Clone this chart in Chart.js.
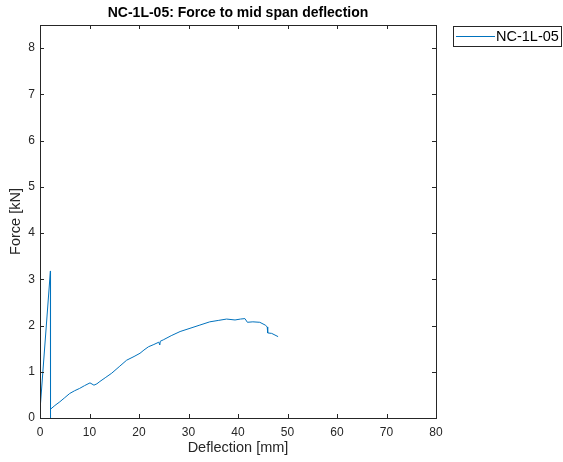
<!DOCTYPE html>
<html lang="en">
  <head>
    <meta charset="UTF-8" />
    <title>NC-1L-05: Force to mid span deflection</title>
    <script src="https://cdn.jsdelivr.net/npm/chart.js@4.4.0/dist/chart.umd.min.js"></script>
    <style>
      html, body { margin: 0; padding: 0; background: #fff; }
      #wrap { position: relative; width: 563px; height: 462px; }
    </style>
  </head>
  <body>
    <div id="wrap"><canvas id="myChart" width="563" height="462"></canvas></div>
    <script>
      const seriesName = "NC-1L-05"
      const deflection = [
        0, 2.1, 2.1, 2.15, 3.0, 4.0, 5.0, 6.0, 7.0, 8.0, 9.0, 10.1, 10.9, 11.5, 12.1,
        13.3, 14.5, 16.0, 17.5, 19.0, 20.2, 21.0, 21.9, 23.0, 24.0, 24.2, 24.3, 24.9,
        26.5, 28.3, 30.3, 32.3, 34.3, 36.0, 37.7, 39.4, 40.5, 41.4, 41.9, 43.0, 44.4,
        45.5, 45.9, 46.0, 46.8, 48.1
      ]
      const force = [
        0.17, 3.18, 0, 0.19, 0.27, 0.35, 0.44, 0.53, 0.59, 0.64, 0.70, 0.76, 0.71, 0.74, 0.79,
        0.88, 0.97, 1.11, 1.25, 1.33, 1.40, 1.47, 1.54, 1.59, 1.64, 1.58, 1.66, 1.69,
        1.78, 1.87, 1.94, 2.01, 2.08, 2.11, 2.14, 2.12, 2.14, 2.15, 2.07, 2.08, 2.07,
        2.01, 1.97, 1.84, 1.83, 1.76
      ]
      const xTicks = [0, 10, 20, 30, 40, 50, 60, 70, 80]
      const yTicks = [0, 1, 2, 3, 4, 5, 6, 7, 8]

      const font = "'Liberation Sans', Arial, sans-serif"
      const axisColor = "#262626"
      const lineColor = "#0072BD"

      // box, inward ticks, title and legend drawn like a MATLAB figure
      const matlabAxes = {
        id: "matlabAxes",
        afterDraw(chart) {
          const ctx = chart.ctx
          const a = chart.chartArea
          const xs = chart.scales.x
          const ys = chart.scales.y
          const tl = 4
          ctx.save()
          ctx.strokeStyle = axisColor
          ctx.lineWidth = 1
          ctx.beginPath()
          xTicks.forEach((v) => {
            const px = Math.round(xs.getPixelForValue(v)) + 0.5
            ctx.moveTo(px, a.bottom)
            ctx.lineTo(px, a.bottom - tl)
            ctx.moveTo(px, a.top)
            ctx.lineTo(px, a.top + tl)
          })
          yTicks.forEach((v) => {
            const py = Math.round(ys.getPixelForValue(v)) + 0.5
            ctx.moveTo(a.left, py)
            ctx.lineTo(a.left + tl, py)
            ctx.moveTo(a.right, py)
            ctx.lineTo(a.right - tl, py)
          })
          ctx.stroke()
          ctx.strokeRect(a.left + 0.5, a.top + 0.5, a.right - a.left, a.bottom - a.top)

          // title
          ctx.fillStyle = "#000"
          ctx.font = "bold 14px " + font
          ctx.textAlign = "center"
          ctx.textBaseline = "middle"
          ctx.fillText("NC-1L-05: Force to mid span deflection", (a.left + a.right) / 2, 13)

          // legend
          ctx.fillStyle = "#fff"
          ctx.fillRect(453.5, 26.5, 108, 20)
          ctx.strokeStyle = axisColor
          ctx.strokeRect(453.5, 26.5, 108, 20)
          ctx.strokeStyle = lineColor
          ctx.beginPath()
          ctx.moveTo(456, 36.5)
          ctx.lineTo(495, 36.5)
          ctx.stroke()
          ctx.fillStyle = "#000"
          ctx.font = "14.5px " + font
          ctx.textAlign = "left"
          ctx.fillText(seriesName, 496, 37)
          ctx.restore()
        },
      }

      const ctx = document.getElementById("myChart").getContext("2d")
      const myChart = new Chart(ctx, {
        type: "scatter",
        data: {
          datasets: [
            {
              label: seriesName,
              data: deflection.map((d, i) => ({ x: d, y: force[i] })),
              showLine: true,
              borderColor: lineColor,
              backgroundColor: lineColor,
              borderWidth: 1,
              pointRadius: 0,
              tension: 0,
            },
          ],
        },
        options: {
          responsive: false,
          animation: false,
          layout: { padding: { left: 0, right: 127, top: 25, bottom: 0 } },
          plugins: {
            legend: { display: false },
            title: { display: false },
            tooltip: { enabled: false },
          },
          scales: {
            x: {
              type: "linear",
              min: 0,
              max: 80,
              grid: { display: false, drawTicks: false },
              border: { display: false },
              afterBuildTicks: (s) => { s.ticks = xTicks.map((v) => ({ value: v })) },
              afterFit: (s) => { s.height = 44 },
              ticks: {
                color: "#262626",
                padding: 7,
                font: { family: font, size: 12 },
                maxRotation: 0,
              },
              title: {
                display: true,
                text: "Deflection [mm]",
                color: "#262626",
                font: { family: font, size: 14.5 },
                padding: { top: 0, bottom: 5 },
              },
            },
            y: {
              type: "linear",
              min: 0,
              max: 8.5,
              grid: { display: false, drawTicks: false },
              border: { display: false },
              afterBuildTicks: (s) => { s.ticks = yTicks.map((v) => ({ value: v })) },
              afterFit: (s) => { s.width = 40 },
              ticks: {
                color: "#262626",
                padding: 5,
                font: { family: font, size: 12 },
              },
              title: {
                display: true,
                text: "Force [kN]",
                color: "#262626",
                font: { family: font, size: 14.5 },
                padding: { top: 7, bottom: 0 },
              },
            },
          },
        },
        plugins: [matlabAxes],
      })
    </script>
  </body>
</html>
